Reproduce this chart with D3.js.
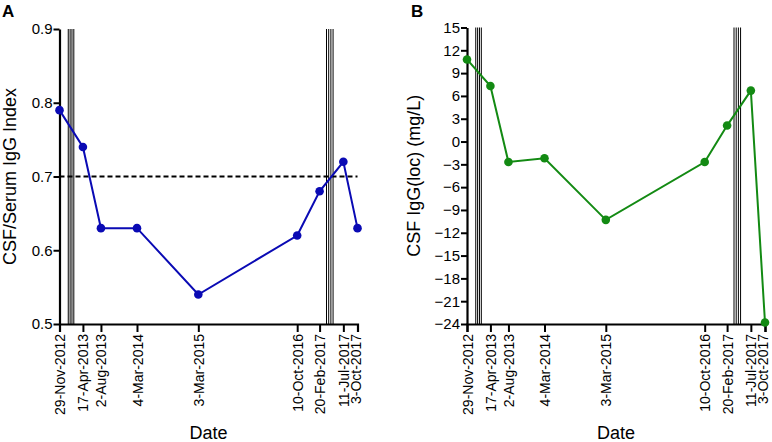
<!DOCTYPE html>
<html><head><meta charset="utf-8">
<script src="https://cdn.jsdelivr.net/npm/d3@7"></script>
<style>
body{margin:0;background:#fff;}
svg{display:block;font-family:"Liberation Sans",Arial,sans-serif;}
</style></head><body>
<svg id="c" width="772" height="442"></svg>
<script>
const dates = ["2012-11-29","2013-04-17","2013-08-02","2014-03-04","2015-03-03","2016-10-10","2017-02-20","2017-07-11","2017-10-03"];
const dateLabels = ["29-Nov-2012","17-Apr-2013","2-Aug-2013","4-Mar-2014","3-Mar-2015","10-Oct-2016","20-Feb-2017","11-Jul-2017","3-Oct-2017"];
const igIndex = [0.79, 0.74, 0.63, 0.63, 0.54, 0.62, 0.68, 0.72, 0.63];
const igLoc = [10.8, 7.3, -2.7, -2.2, -10.3, -2.7, 2.1, 6.7, -23.8];
const treatmentDates = ["2013-01-20","2013-01-31","2013-02-11","2013-02-22","2017-04-02","2017-04-15","2017-04-28","2017-05-11"];
const refLevel = 0.7;
const ticksA = [0.5, 0.6, 0.7, 0.8, 0.9];
const ticksB = [15,12,9,6,3,0,-3,-6,-9,-12,-15,-18,-21,-24];

const FONT = '"Liberation Sans",Arial,sans-serif';
const parse = d3.utcParse("%Y-%m-%d");
const dts = dates.map(parse);
const tdts = treatmentDates.map(parse);
const svg = d3.select("#c");

function panel(opts){
  const g = svg.append("g");
  const x = d3.scaleUtc().domain([dts[0], dts[dts.length-1]]).range([opts.x0, opts.x1]);
  const y = d3.scaleLinear().domain(opts.ydom).range([opts.yb, opts.yt]);
  g.selectAll("line.tr").data(tdts).enter().append("line")
    .attr("x1", d=>x(d)).attr("x2", d=>x(d))
    .attr("y1", opts.yb).attr("y2", opts.yt)
    .attr("stroke","#000").attr("stroke-width",1);
  if(opts.ref!==undefined){
    g.append("line").attr("x1",opts.x0).attr("x2",opts.x1)
      .attr("y1",y(opts.ref)).attr("y2",y(opts.ref))
      .attr("stroke","#000").attr("stroke-width",1.8).attr("stroke-dasharray","5,3");
  }
  const xa = g.append("g").attr("transform",`translate(0,${opts.yb})`)
    .call(d3.axisBottom(x).tickValues(dts).tickSize(8).tickFormat((d,i)=>dateLabels[i]));
  xa.select(".domain").attr("stroke-width",2.2);
  xa.selectAll(".tick line").attr("stroke-width",2);
  xa.selectAll(".tick text").attr("transform","rotate(-90)").attr("text-anchor","end")
    .attr("x",-10).attr("y",0).attr("dy",(d,i)=> i===dts.length-1 ? "0.2em" : "0.36em")
    .attr("font-size",14).attr("fill","#000")
    .attr("font-family",FONT);
  const ya = g.append("g").attr("transform",`translate(${opts.x0},0)`)
    .call(d3.axisLeft(y).tickValues(opts.ticks).tickSize(6).tickSizeOuter(0).tickFormat(opts.fmt));
  ya.select(".domain").attr("stroke-width",2.2);
  ya.selectAll(".tick line").attr("stroke-width",2);
  ya.selectAll(".tick text").attr("font-size",15).attr("fill","#000").attr("x",-7)
    .attr("font-family",FONT);
  const line = d3.line().x((d,i)=>x(dts[i])).y(d=>y(d));
  g.append("path").datum(opts.values).attr("d",line).attr("fill","none")
    .attr("stroke",opts.color).attr("stroke-width",2);
  g.selectAll("circle").data(opts.values).enter().append("circle")
    .attr("cx",(d,i)=>x(dts[i])).attr("cy",d=>y(d)).attr("r",4.3).attr("fill",opts.color);
  g.append("text").attr("x",(opts.x0+opts.x1)/2).attr("y",439).attr("text-anchor","middle")
    .attr("font-size",18).attr("font-family",FONT).text("Date");
  g.append("text").attr("transform",`translate(${opts.ytx},${(opts.yt+opts.yb)/2}) rotate(-90)`)
    .attr("text-anchor","middle").attr("font-size",18).attr("font-family",FONT).text(opts.ytitle);
  g.append("text").attr("x",opts.lx).attr("y",17).attr("font-size",17).attr("font-weight","bold")
    .attr("font-family",FONT).text(opts.letter);
}

panel({x0:59.5,x1:357.5,yb:324,yt:29,ydom:[0.5,0.9],ticks:ticksA,fmt:d3.format(".1f"),
  values:igIndex,color:"#0a0ab4",ref:refLevel,ytitle:"CSF/Serum IgG Index",ytx:16,letter:"A",lx:2});
panel({x0:467,x1:765,yb:324,yt:27.5,ydom:[-24,15],ticks:ticksB,fmt:d3.format("d"),
  values:igLoc,color:"#138a13",ytitle:"CSF IgG(loc) (mg/L)",ytx:420,letter:"B",lx:411});
</script>
</body></html>
